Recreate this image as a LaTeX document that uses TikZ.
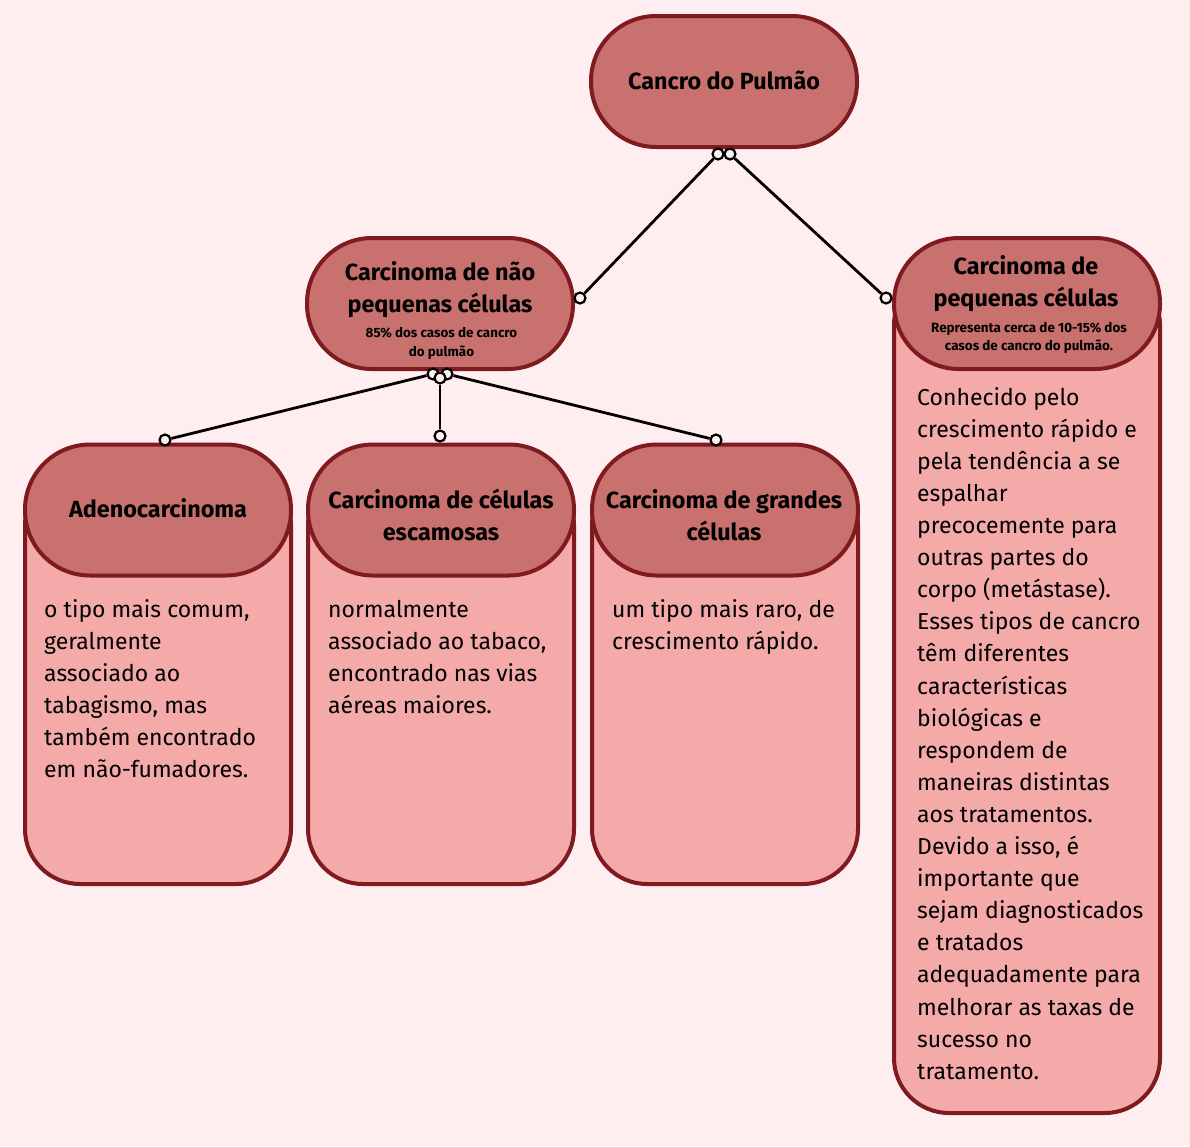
\documentclass[tikz,border=0pt]{standalone}
\usepackage{fontspec}
\setmainfont{Fira Sans}
\definecolor{pagebg}{HTML}{FFEEF0}
\definecolor{headfill}{HTML}{C8716E}
\definecolor{bodyfill}{HTML}{F4AAA8}
\definecolor{edge}{HTML}{7F1A20}
\begin{document}
\begin{tikzpicture}[x=1pt,y=-1pt,
  headbox/.style={draw=edge, line width=4pt, fill=headfill, rounded corners=65pt,
    minimum width=266pt, minimum height=131pt, inner sep=0pt},
  bodybox/.style={draw=edge, line width=4pt, fill=bodyfill, rounded corners=55pt,
    minimum width=266pt, inner sep=0pt},
  knob/.style={circle, draw=black, line width=2.2pt, fill=pagebg, minimum size=11pt, inner sep=0pt},
  link/.style={black, line width=2.8pt},
  titletext/.style={inner sep=0pt, align=center, font=\fontsize{23.4}{32}\selectfont\bfseries},
  notetext/.style={inner sep=0pt, align=center, font=\fontsize{13.4}{18.5}\selectfont\bfseries},
  bodytext/.style={inner sep=0pt, align=left, anchor=north west, font=\fontsize{23}{32.1}\selectfont}]
\fill[pagebg] (0,0) rectangle (1190,1146);
\useasboundingbox (0,0) rectangle (1190,1146);

% bodies of the four leaf cards (top edges hidden under their headers)
\node[bodybox, minimum height=414pt] (adenobody) at (158,677) {};
\node[bodybox, minimum height=414pt] (squambody) at (441,677) {};
\node[bodybox, minimum height=414pt] (largebody) at (725,677) {};
\node[bodybox, minimum height=843pt] (smallbody) at (1027,691.5) {};

% rounded headers
\node[headbox] (root) at (724,81.5) {};
\node[headbox] (nsclc) at (440,303.5) {};
\node[headbox] (sclc) at (1027,303.5) {};
\node[headbox] (adeno) at (158,510) {};
\node[headbox] (squam) at (441,510) {};
\node[headbox] (large) at (725,510) {};

% header titles
\node[titletext, anchor=base] (roottitle) at (724,89) {Cancro do Pulmão};
\node[titletext, anchor=north] (nsclctitle) at (440,258.3) {\strut Carcinoma de não\\ pequenas células};
\node[notetext, anchor=north] (nsclcnote) at (441.5,324.8) {\strut 85\% dos casos de cancro\\ do pulmão};
\node[titletext, anchor=north] (sclctitle) at (1026,251.8) {\strut Carcinoma de\\ pequenas células};
\node[notetext, anchor=north] (sclcnote) at (1029,319.3) {\strut Representa cerca de 10-15\% dos\\ casos de cancro do pulmão.};
\node[titletext, anchor=base] (adenotitle) at (158,517) {Adenocarcinoma};
\node[titletext, anchor=north] (squamtitle) at (441,485.6) {\strut Carcinoma de células\\ escamosas};
\node[titletext, anchor=north] (largetitle) at (724,485.6) {\strut Carcinoma de grandes\\ células};

% card texts
\node[bodytext] (adenotext) at (44,594.5) {\strut o tipo mais comum,\\ geralmente\\ associado ao\\ tabagismo, mas\\ também encontrado\\ em não-fumadores.};
\node[bodytext] (squamtext) at (328,594.5) {\strut normalmente\\ associado ao tabaco,\\ encontrado nas vias\\ aéreas maiores.};
\node[bodytext] (largetext) at (612,594.5) {\strut um tipo mais raro, de\\ crescimento rápido.};
\node[bodytext] (sclctext) at (917,382.5) {\strut Conhecido pelo\\ crescimento rápido e\\ pela tendência a se\\ espalhar\\ precocemente para\\ outras partes do\\ corpo (metástase).\\ Esses tipos de cancro\\ têm diferentes\\ características\\ biológicas e\\ respondem de\\ maneiras distintas\\ aos tratamentos.\\ Devido a isso, é\\ importante que\\ sejam diagnosticados\\ e tratados\\ adequadamente para\\ melhorar as taxas de\\ sucesso no\\ tratamento.};

% connector end knobs
\node[knob] (rootL) at (718,154) {};
\node[knob] (rootR) at (730,154) {};
\node[knob] (nsclcin) at (580,298) {};
\node[knob] (sclcin) at (886,298) {};
\node[knob] (nsclcL) at (433,374) {};
\node[knob] (nsclcR) at (447,374) {};
\node[knob] (nsclcM) at (440,378) {};
\node[knob] (adenoin) at (165,440) {};
\node[knob] (squamin) at (440,436) {};
\node[knob] (largein) at (716,440) {};

% connectors
\draw[link] (rootL) -- (nsclcin);
\draw[link] (rootR) -- (sclcin);
\draw[link] (nsclcL) -- (adenoin);
\draw[link] (nsclcM) -- (squamin);
\draw[link] (nsclcR) -- (largein);
\end{tikzpicture}
\end{document}
